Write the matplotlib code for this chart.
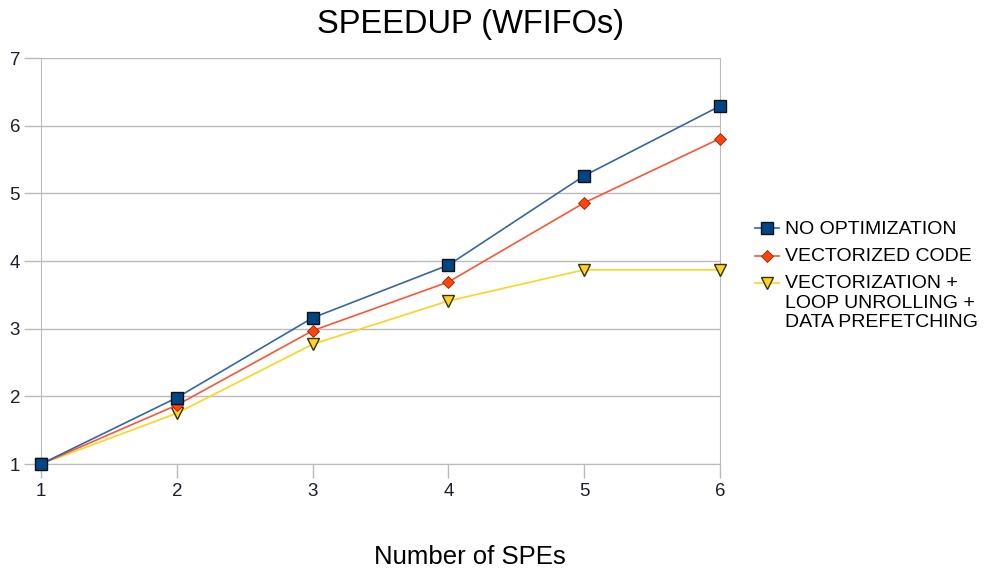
import matplotlib
matplotlib.use("Agg")
import matplotlib.pyplot as plt

spes = [1, 2, 3, 4, 5, 6]
no_opt = [1.0, 1.98, 3.16, 3.94, 5.26, 6.29]
vectorized = [1.0, 1.87, 2.97, 3.69, 4.86, 5.81]
vec_unroll_prefetch = [1.0, 1.75, 2.77, 3.41, 3.87, 3.87]
labels = ["NO OPTIMIZATION", "VECTORIZED CODE",
          "VECTORIZATION +\nLOOP UNROLLING +\nDATA PREFETCHING"]

plt.rcParams['font.family'] = ['Liberation Sans', 'DejaVu Sans']
fig = plt.figure(figsize=(9.84, 5.72), dpi=100)
ax = fig.add_axes([0.0417, 0.1888, 0.69, 0.7098])

ax.plot(spes, no_opt, color="#3366aa", lw=1.2, marker="s", ms=8.5,
        mfc="#004586", mec="#111111", mew=1, label=labels[0], zorder=5, clip_on=False)
ax.plot(spes, vectorized, color="#ff5533", lw=1.2, marker="D", ms=6.5,
        mfc="#ff420e", mec="#992200", mew=0.6, label=labels[1], zorder=4, clip_on=False)
ax.plot(spes, vec_unroll_prefetch, color="#ffd320", lw=1.2, marker="v", ms=8,
        mfc="#ffd320", mec="#333300", mew=1, label=labels[2], zorder=3, clip_on=False)

ax.set_xlim(1, 6)
ax.set_ylim(1, 7)
ax.set_xticks(spes)
ax.set_yticks(range(1, 8))
ax.grid(axis='y', color="#bbbbbb", lw=1)
ax.set_axisbelow(True)
ax.spines["top"].set_visible(False)
for s in ["left", "right", "bottom"]:
    ax.spines[s].set_color("#bbbbbb")
ax.tick_params(axis='x', direction='out', length=10, color="#bbbbbb", width=1,
               labelsize=13.5, pad=4)
ax.tick_params(axis='y', direction='out', length=12, color="#bbbbbb", width=1,
               labelsize=13.5, pad=3)
ax.tick_params(axis='both', labelcolor="#1e1e30")

fig.text(0.478, 0.958, "SPEEDUP (WFIFOs)", ha="center", va="center", fontsize=23.5)
fig.text(0.478, 0.027, "Number of SPEs", ha="center", va="center", fontsize=18.5)

leg = ax.legend(loc="upper left", bbox_to_anchor=(0.767, 0.614),
                bbox_transform=fig.transFigure, frameon=False,
                fontsize=14, handlelength=1.25, handletextpad=0.3,
                handleheight=1.0, labelspacing=0.5, borderaxespad=0, borderpad=0)
for col in leg._legend_handle_box.get_children():
    for row in col.get_children():
        row.align = "top"

fig.savefig("out.png", dpi=100)
